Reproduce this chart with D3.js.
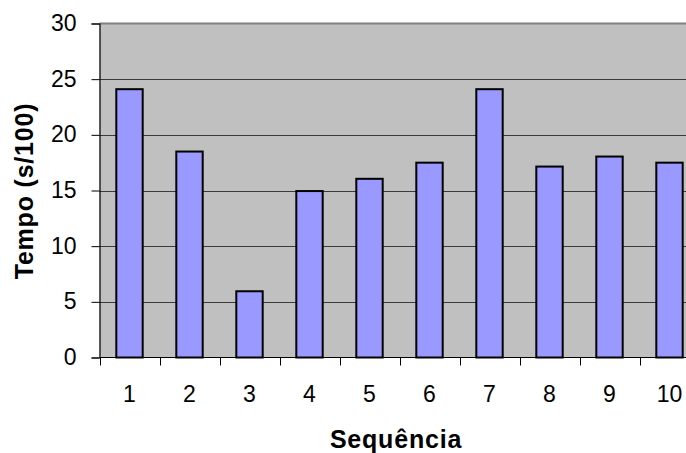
<!DOCTYPE html>
<html>
<head>
<meta charset="utf-8">
<script src="https://cdn.jsdelivr.net/npm/d3@7"></script>
<style>
  html, body { margin: 0; padding: 0; background: #fff; }
  svg { display: block; font-family: "Liberation Sans", Arial, sans-serif; }
</style>
</head>
<body>
<svg id="chart" width="686" height="453"></svg>
<script>
// Tempo por sequência
const categories = ["1", "2", "3", "4", "5", "6", "7", "8", "9", "10"];
const tempo = [24.1, 18.5, 5.95, 14.95, 16.05, 17.5, 24.1, 17.15, 18.05, 17.5];
const yTicks = [0, 5, 10, 15, 20, 25, 30];

const svg = d3.select("#chart");
const plot = { left: 99.5, top: 23.5, width: 600, height: 334 };
const font = "'Liberation Sans', Arial, sans-serif";

const x = d3.scaleBand()
  .domain(categories)
  .range([plot.left, plot.left + plot.width])
  .paddingInner(0.56)
  .paddingOuter(0.28);

const y = d3.scaleLinear()
  .domain([0, 30])
  .range([plot.top + plot.height, plot.top]);

// Plot background
svg.append("rect")
  .attr("x", plot.left)
  .attr("y", plot.top)
  .attr("width", plot.width)
  .attr("height", plot.height)
  .attr("fill", "#c0c0c0");

// Horizontal gridlines
svg.append("g")
  .selectAll("line")
  .data(yTicks.filter(d => d > 0 && d < 30))
  .join("line")
  .attr("x1", plot.left)
  .attr("x2", plot.left + plot.width)
  .attr("y1", d => Math.round(y(d)) + 0.5)
  .attr("y2", d => Math.round(y(d)) + 0.5)
  .attr("stroke", "#3a3a3a")
  .attr("stroke-width", 1);

// Top border of plot area
svg.append("line")
  .attr("x1", plot.left)
  .attr("x2", plot.left + plot.width)
  .attr("y1", y(30))
  .attr("y2", y(30))
  .attr("stroke", "#808080")
  .attr("stroke-width", 2);

// Bars
svg.append("g")
  .selectAll("rect")
  .data(categories.map((c, i) => ({ c, v: tempo[i] })))
  .join("rect")
  .attr("x", d => x(d.c))
  .attr("y", d => y(d.v))
  .attr("width", x.bandwidth())
  .attr("height", d => y(0) - y(d.v))
  .attr("fill", "#9999ff")
  .attr("stroke", "#000")
  .attr("stroke-width", 2);

// Y axis
const yAxis = d3.axisLeft(y)
  .tickValues(yTicks)
  .tickSize(8)
  .tickPadding(15);
const gy = svg.append("g")
  .attr("transform", `translate(${plot.left},0)`)
  .call(yAxis);
gy.attr("font-size", null).attr("font-family", null);
gy.select(".domain").attr("stroke", "#000").attr("stroke-width", 1.2);
gy.selectAll(".tick line").attr("stroke", "#000");
gy.selectAll(".tick text")
  .style("font-size", "23px")
  .style("font-family", font)
  .attr("dy", "0.3em")
  .attr("fill", "#000");

// X axis: ticks at category boundaries, labels at category centres
const boundaries = d3.range(categories.length + 1).map(i => plot.left + i * plot.width / categories.length);
const gx = svg.append("g");
gx.append("line")
  .attr("x1", plot.left)
  .attr("x2", plot.left + plot.width)
  .attr("y1", y(0))
  .attr("y2", y(0))
  .attr("stroke", "#000")
  .attr("stroke-width", 1.2);
gx.selectAll("line.tick")
  .data(boundaries)
  .join("line")
  .attr("class", "tick")
  .attr("x1", d => Math.round(d) + 0.5)
  .attr("x2", d => Math.round(d) + 0.5)
  .attr("y1", y(0))
  .attr("y2", y(0) + 8)
  .attr("stroke", "#000");
gx.selectAll("text")
  .data(categories)
  .join("text")
  .attr("x", d => x(d) + x.bandwidth() / 2)
  .attr("y", 402)
  .attr("text-anchor", "middle")
  .style("font-size", "23px")
  .style("font-family", font)
  .attr("fill", "#000")
  .text(d => d);

// Axis titles
svg.append("text")
  .attr("x", 396)
  .attr("y", 448)
  .attr("text-anchor", "middle")
  .style("font-size", "25px")
  .style("font-family", font)
  .attr("font-weight", "bold")
  .attr("letter-spacing", 0.8)
  .text("Sequência");

svg.append("text")
  .attr("transform", "translate(33,191) rotate(-90)")
  .attr("text-anchor", "middle")
  .style("font-size", "25px")
  .style("font-family", font)
  .attr("font-weight", "bold")
  .attr("letter-spacing", 0.8)
  .text("Tempo (s/100)");
</script>
</body>
</html>
